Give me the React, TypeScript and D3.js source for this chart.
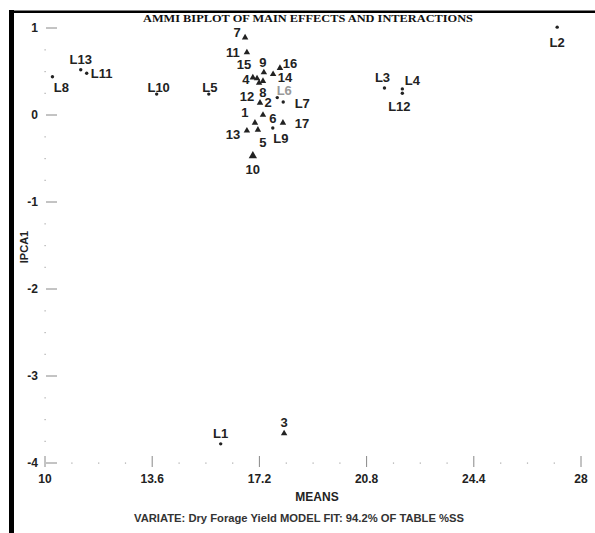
import * as d3 from 'd3';

// Environments (L) and genotypes (numbers): means and IPCA1 scores
const envNames = ['L1', 'L2', 'L3', 'L4', 'L5', 'L6', 'L7', 'L8', 'L9', 'L10', 'L11', 'L12', 'L13'];
const envMeans = [15.9, 27.2, 21.4, 22.0, 15.5, 17.8, 18.0, 10.25, 17.65, 13.75, 11.4, 22.0, 11.2];
const envIPCA = [-3.78, 1.01, 0.31, 0.3, 0.24, 0.2, 0.15, 0.44, -0.15, 0.24, 0.48, 0.25, 0.52];

const genoNames = ['1', '2', '3', '4', '5', '6', '7', '8', '9', '10', '11', '12', '13', '14', '15', '16', '17'];
const genoMeans = [17.05, 17.22, 18.03, 16.98, 17.15, 17.32, 16.72, 17.32, 17.35, 16.98, 16.78, 17.19, 16.78, 17.66, 17.12, 17.89, 17.99];
const genoIPCA = [-0.09, 0.14, -3.66, 0.43, -0.17, 0.0, 0.89, 0.39, 0.49, -0.47, 0.72, 0.37, -0.18, 0.47, 0.42, 0.54, -0.09];

const xTicks = [10, 13.6, 17.2, 20.8, 24.4, 28];
const xTickLabels = ['10', '13.6', '17.2', '20.8', '24.4', '28'];
const yTicks = [1, 0, -1, -2, -3, -4];
const yTickLabels = ['1', '0', '-1', '-2', '-3', '-4'];

// label placement (pixels from marker)
const envLabelOffset: Record<string, [number, number]> = {
  L1: [0, -10], L2: [0, 15], L3: [-2, -11], L4: [10, -8], L5: [1, -7], L6: [7, -7], L7: [19, 1],
  L8: [9, 11], L9: [8, 10], L10: [2, -7], L11: [15, 0], L12: [-3, 13], L13: [0, -10],
};
const genoLabelOffset: Record<string, [number, number]> = {
  '1': [-10, -10], '2': [8, 0], '3': [0, -11], '4': [-7, 2], '5': [5, 13], '6': [10, 3], '7': [-8, -5],
  '8': [0, 11], '9': [-1, -10], '10': [0, 14], '11': [-14, 0], '12': [-12, 14], '13': [-14, 4],
  '14': [12, 3], '15': [-13, -14], '16': [10, -5], '17': [19, 1],
};

const W = 595;
const H = 533;
const sans = 'Liberation Sans, Arial, sans-serif';

export default function App() {
  const x = d3.scaleLinear().domain([10, 28]).range([45, 581]);
  const y = d3.scaleLinear().domain([-4, 1]).range([463, 28]);
  const axisY = y(-4);

  const xMinor = d3.range(10, 28.001, 0.9).filter(v => !xTicks.some(t => Math.abs(t - v) < 1e-6));
  const yMinor = d3.range(-4, 1.001, 0.25).filter(v => Math.abs(v - Math.round(v)) > 1e-6);
  const tri = d3.symbol().type(d3.symbolTriangle).size(18)() as string;
  const triBig = d3.symbol().type(d3.symbolTriangle).size(30)() as string;

  return (
    <>
      <style>{'body{margin:0}'}</style>
      <svg width={W} height={H} style={{ display: 'block', background: '#fff' }}>
        {/* frame */}
        <rect x={9} y={10} width={5} height={H - 10} fill="#000" />
        <rect x={9} y={10.5} width={W - 9} height={2.5} fill="#000" />

        <text x={308} y={22} textAnchor="middle" fontFamily="Liberation Serif, Times New Roman, serif"
          fontWeight="bold" fontSize={10} textLength={330} lengthAdjust="spacingAndGlyphs" fill="#111">
          AMMI BIPLOT OF MAIN EFFECTS AND INTERACTIONS
        </text>

        {/* y axis */}
        {yTicks.map((t, i) => (
          <g key={'y' + t}>
            <line x1={46} x2={57} y1={y(t)} y2={y(t)} stroke="#888" strokeWidth={1} />
            <text x={38} y={y(t)} dy="0.35em" textAnchor="end" fontFamily={sans} fontWeight="bold"
              fontSize={12} fill="#222">{yTickLabels[i]}</text>
          </g>
        ))}
        {yMinor.map(v => (
          <rect key={'ym' + v} x={44.5} y={y(v) - 0.5} width={1.2} height={1.2} fill="#aaa" />
        ))}
        <text transform={`translate(24,${247}) rotate(-90)`} textAnchor="middle" dy="0.35em"
          fontFamily={sans} fontWeight="bold" fontSize={11} fill="#222">IPCA1</text>

        {/* x axis */}
        {xTicks.map((t, i) => (
          <g key={'x' + t}>
            <line x1={x(t)} x2={x(t)} y1={axisY - 7} y2={axisY + 4} stroke="#888" strokeWidth={1} />
            <text x={x(t)} y={axisY + 16} dy="0.35em" textAnchor="middle" fontFamily={sans}
              fontWeight="bold" fontSize={12} fill="#222">{xTickLabels[i]}</text>
          </g>
        ))}
        {xMinor.map(v => (
          <rect key={'xm' + v} x={x(v) - 0.5} y={axisY - 0.5} width={1.2} height={1.2} fill="#aaa" />
        ))}
        <text x={317} y={497} dy="0.35em" textAnchor="middle" fontFamily={sans} fontWeight="bold"
          fontSize={12} fill="#222">MEANS</text>
        <text x={299} y={518} dy="0.35em" textAnchor="middle" fontFamily={sans} fontWeight="bold"
          fontSize={10} textLength={330} lengthAdjust="spacingAndGlyphs" fill="#333">
          VARIATE: Dry Forage Yield  MODEL FIT: 94.2%  OF TABLE %SS
        </text>

        {/* genotypes */}
        {genoNames.map((n, i) => {
          const px = x(genoMeans[i]);
          const py = y(genoIPCA[i]);
          const [dx, dy] = genoLabelOffset[n];
          return (
            <g key={'g' + n}>
              <path d={n === '10' ? triBig : tri} transform={`translate(${px},${py})`} fill="#222" />
              <text x={px + dx} y={py + dy} dy="0.35em" textAnchor="middle" fontFamily={sans}
                fontWeight="bold" fontSize={13} fill="#222">{n}</text>
            </g>
          );
        })}

        {/* environments */}
        {envNames.map((n, i) => {
          const px = x(envMeans[i]);
          const py = y(envIPCA[i]);
          const [dx, dy] = envLabelOffset[n];
          const c = n === 'L6' ? '#999' : '#222';
          return (
            <g key={'e' + n}>
              <circle cx={px} cy={py} r={1.7} fill="#222" />
              <text x={px + dx} y={py + dy} dy="0.35em" textAnchor="middle" fontFamily={sans}
                fontWeight="bold" fontSize={13} fill={c}>{n}</text>
            </g>
          );
        })}
      </svg>
    </>
  );
}
